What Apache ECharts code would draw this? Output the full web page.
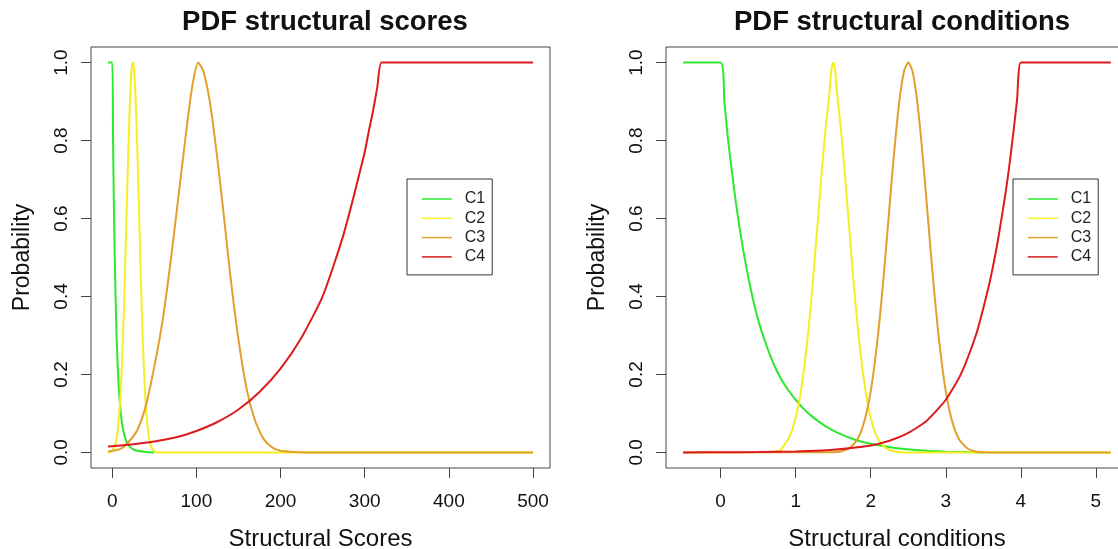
<!DOCTYPE html>
<html>
<head>
<meta charset="UTF-8">
<title>PDF structural scores / conditions</title>
<script src="https://cdn.jsdelivr.net/npm/echarts@6/dist/echarts.min.js"></script>
</head>
<body style="margin:0;background:#fff;">
<div id="main" style="width:1118px;height:549px;"></div>
<script type="text/javascript">
// tick labels
var scoreTicks = [0, 100, 200, 300, 400, 500];
var condTicks = [0, 1, 2, 3, 4, 5];
var probTicks = [0, 0.2, 0.4, 0.6, 0.8, 1.0];
var names = ['C1', 'C2', 'C3', 'C4'];

// left panel: structural scores  [x, probability]
var scoresC1 = [[-5,1],[0,1],[1,0.8],[2,0.63],[3,0.5],[4,0.4],[5,0.31],[6,0.25],[7,0.2],[8,0.16],
  [10,0.105],[12,0.07],[14,0.048],[17,0.028],[20,0.017],[25,0.008],[30,0.004],[40,0.001],[50,0]];
var scoresC2 = [[-5,0],[-2.5,0.001],[0.5,0.006],[3.5,0.02],[5,0.034],[6.5,0.056],[8,0.089],[9.5,0.135],
  [11,0.198],[12.5,0.278],[14,0.375],[15.5,0.487],[17,0.607],[18.5,0.726],[20,0.835],[21.5,0.923],
  [23,0.98],[24.5,1],[26,0.98],[27.5,0.923],[29,0.835],[30.5,0.726],[32,0.607],[33.5,0.487],
  [35,0.375],[36.5,0.278],[38,0.198],[39.5,0.135],[41,0.089],[42.5,0.056],[44,0.034],[45.5,0.02],
  [48.5,0.006],[51.5,0.001],[54.5,0],[500,0]];
var scoresC3 = [[-5,0.002],[0,0.004],[10,0.009],[20,0.028],[30,0.058],[40,0.12],[50,0.22],[60,0.34],
  [70,0.5],[80,0.68],[90,0.86],[96,0.95],[102,1],[108,0.98],[116,0.9],[124,0.77],[132,0.62],
  [140,0.46],[150,0.29],[160,0.16],[170,0.08],[180,0.034],[190,0.013],[200,0.004],[215,0.001],
  [230,0],[500,0]];
var scoresC4 = [[-5,0.015],[0,0.016],[25,0.021],[50,0.028],[75,0.038],[100,0.055],[125,0.078],
  [150,0.11],[175,0.155],[200,0.215],[225,0.295],[250,0.4],[275,0.56],[300,0.77],[305,0.825],
  [310,0.877],[315,0.937],[320,1],[340,1],[500,1]];

// right panel: structural conditions  [x, probability]
var condC1 = [[-0.5,1],[0,1],[0.05,0.9],[0.1,0.8],[0.2,0.645],[0.3,0.52],[0.4,0.42],[0.5,0.34],
  [0.6,0.28],[0.7,0.23],[0.8,0.19],[0.9,0.16],[1.0,0.135],[1.1,0.113],[1.2,0.095],[1.4,0.067],
  [1.6,0.047],[1.8,0.032],[2.0,0.022],[2.3,0.012],[2.6,0.006],[3.0,0.002],[3.5,0]];
var condC2 = [[0.6,0],[0.7,0.0015],[0.8,0.006],[0.85,0.02],[0.9,0.034],
  [0.95,0.056],[1.0,0.089],[1.05,0.135],[1.1,0.198],[1.15,0.278],[1.2,0.375],[1.25,0.487],[1.3,0.607],
  [1.35,0.726],[1.4,0.835],[1.45,0.923],[1.475,0.98],[1.5,1],[1.525,0.98],[1.55,0.923],[1.6,0.835],
  [1.65,0.726],[1.7,0.607],[1.75,0.487],[1.8,0.375],[1.85,0.278],[1.9,0.198],[1.95,0.135],[2.0,0.089],
  [2.05,0.056],[2.1,0.034],[2.15,0.02],[2.2,0.011],[2.3,0.003],[2.45,0],[5.2,0]];
var condC3 = [[-0.5,0],[1.5,0.0006],[1.6,0.0025],[1.7,0.0088],[1.8,0.027],[1.85,0.044],[1.9,0.07],
  [1.95,0.107],[2.0,0.157],[2.05,0.224],[2.1,0.306],[2.15,0.404],[2.2,0.514],[2.25,0.63],[2.3,0.744],
  [2.35,0.847],[2.4,0.929],[2.45,0.982],[2.5,1],[2.55,0.982],[2.6,0.929],[2.65,0.847],[2.7,0.744],
  [2.75,0.63],[2.8,0.514],[2.85,0.404],[2.9,0.306],[2.95,0.224],[3.0,0.157],[3.05,0.107],[3.1,0.07],
  [3.15,0.044],[3.2,0.027],[3.3,0.0088],[3.4,0.0025],[3.5,0.0006],[3.7,0],[5.2,0]];
var condC4 = [[-0.5,0],[0,0.0004],[0.5,0.001],[1,0.0025],[1.5,0.007],[2,0.018],[2.25,0.03],
  [2.5,0.05],[2.75,0.082],[3,0.135],[3.2,0.2],[3.4,0.3],[3.5,0.37],[3.6,0.45],[3.7,0.55],
  [3.8,0.67],[3.85,0.74],[3.9,0.82],[3.95,0.905],[4,1],[4.2,1],[5.2,1]];

var colors = ['#2ee82e', '#f4ee22', '#e1a12c', '#dc1c1c'];
var font = 'Liberation Sans, Arial, sans-serif';

var myChart = echarts.init(document.getElementById('main'));

function xAxisOf(idx, min, max, ticks, name) {
    return {
        type: 'value', gridIndex: idx, min: min, max: max,
        name: name, nameLocation: 'middle', nameGap: 59,
        nameTextStyle: { fontSize: 24, color: '#111', fontFamily: font },
        axisLine: { show: false, onZero: false },
        axisTick: { show: true, length: 10, customValues: ticks, lineStyle: { color: '#444' } },
        axisLabel: { customValues: ticks, margin: 24, fontSize: 19, color: '#111', fontFamily: font },
        splitLine: { show: false }
    };
}
function yAxisOf(idx) {
    return {
        type: 'value', gridIndex: idx, min: -0.04, max: 1.04,
        name: 'Probability', nameLocation: 'middle', nameGap: 57,
        nameTextStyle: { fontSize: 23, color: '#111', fontFamily: font },
        axisLine: { show: false, onZero: false },
        axisTick: { show: true, length: 10, customValues: probTicks, lineStyle: { color: '#444' } },
        axisLabel: {
            customValues: probTicks, rotate: 90, margin: 20, fontSize: 19, color: '#111', fontFamily: font,
            formatter: function (v) { return v.toFixed(1); }
        },
        splitLine: { show: false }
    };
}
function legendAt(left) {
    return {
        orient: 'vertical', left: left, top: 179, data: names,
        itemWidth: 30, itemHeight: 14, itemGap: 3.3,
        padding: [12, 7, 10, 14],
        borderColor: '#333', borderWidth: 1,
        itemStyle: { opacity: 0 },
        lineStyle: { width: 1.5 },
        textStyle: { fontSize: 16, color: '#222', fontFamily: font, padding: [0, 0, 0, 8] }
    };
}
function lineOf(name, data, idx, color) {
    return {
        name: name, type: 'line', xAxisIndex: idx, yAxisIndex: idx, data: data,
        symbol: 'none', smooth: 0.2, color: color,
        lineStyle: { width: 2, color: color }
    };
}

myChart.setOption({
    animation: false,
    backgroundColor: '#fff',
    title: [
        { text: 'PDF structural scores', left: 320, top: 3, textAlign: 'center',
          textStyle: { fontSize: 27.5, fontWeight: 'bold', color: '#111', fontFamily: font } },
        { text: 'PDF structural conditions', left: 897, top: 3, textAlign: 'center',
          textStyle: { fontSize: 27.5, fontWeight: 'bold', color: '#111', fontFamily: font } }
    ],
    legend: [legendAt(407), legendAt(1013)],
    grid: [
        { left: 91, top: 47, width: 459, height: 421, show: true, borderColor: '#444', borderWidth: 1,
          outerBoundsMode: 'none' },
        { left: 666, top: 47, width: 462, height: 421, show: true, borderColor: '#444', borderWidth: 1,
          outerBoundsMode: 'none' }
    ],
    xAxis: [
        xAxisOf(0, -25.2, 520.2, scoreTicks, 'Structural Scores'),
        xAxisOf(1, -0.728, 5.428, condTicks, 'Structural conditions')
    ],
    yAxis: [yAxisOf(0), yAxisOf(1)],
    series: [
        lineOf('C1', scoresC1, 0, colors[0]),
        lineOf('C2', scoresC2, 0, colors[1]),
        lineOf('C3', scoresC3, 0, colors[2]),
        lineOf('C4', scoresC4, 0, colors[3]),
        lineOf('C1', condC1, 1, colors[0]),
        lineOf('C2', condC2, 1, colors[1]),
        lineOf('C3', condC3, 1, colors[2]),
        lineOf('C4', condC4, 1, colors[3])
    ]
});
</script>
</body>
</html>
